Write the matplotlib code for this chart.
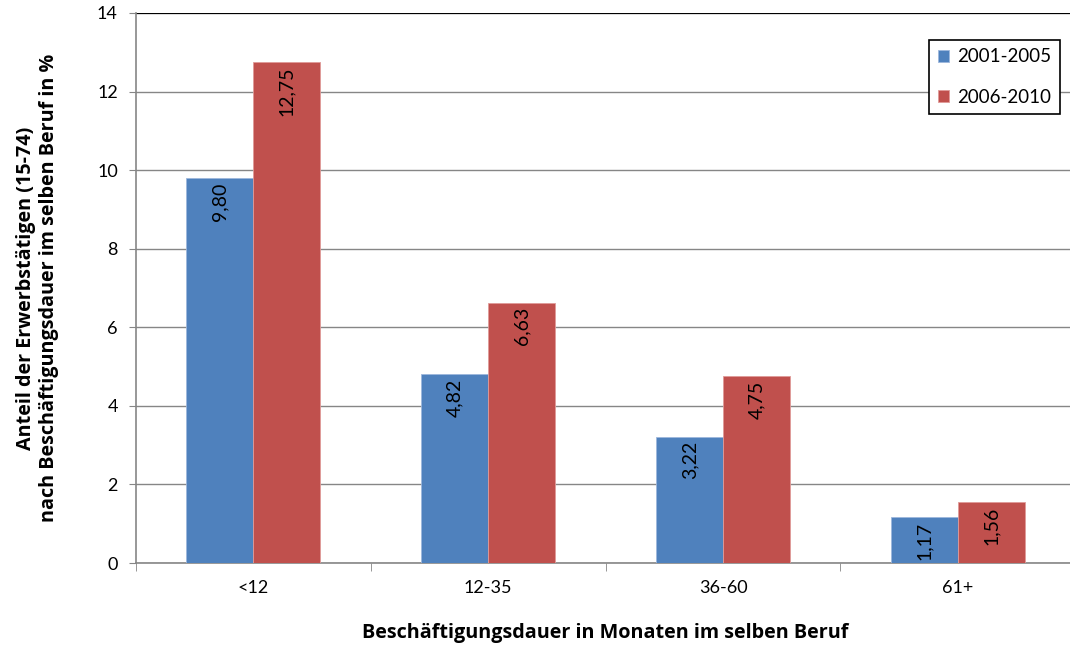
import matplotlib
matplotlib.use("Agg")
import matplotlib.pyplot as plt
import numpy as np

# Daten
categories = ["<12", "12-35", "36-60", "61+"]
series_a = [9.80, 4.82, 3.22, 1.17]
series_b = [12.75, 6.63, 4.75, 1.56]
labels = ["2001-2005", "2006-2010"]

plt.rcParams['font.family'] = ['Lato', 'DejaVu Sans']

fig = plt.figure(figsize=(10.7, 6.49), dpi=100)
ax = fig.add_axes([0.127, 0.1325, 0.878, 0.8475])

x = np.arange(len(categories))
w = 0.285
bars_a = ax.bar(x - w / 2, series_a, w, color="#4F81BD", edgecolor="#9DB7DC", linewidth=0.6, label=labels[0], zorder=3)
bars_b = ax.bar(x + w / 2, series_b, w, color="#C0504D", edgecolor="#E09A98", linewidth=0.6, label=labels[1], zorder=3)

for bars, vals in [(bars_a, series_a), (bars_b, series_b)]:
    for b, v in zip(bars, vals):
        ax.text(b.get_x() + b.get_width() / 2, v - 0.12, f"{v:.2f}".replace(".", ","),
                rotation=90, ha="center", va="top", fontsize=14, zorder=4)

ax.set_xlim(-0.5, len(categories) - 0.5)
ax.set_ylim(0, 14)
ax.set_yticks(range(0, 15, 2))
ax.set_xticks(x)
ax.set_xticklabels(categories, fontsize=13)
ax.tick_params(axis="y", labelsize=13, length=5, color="#868686", pad=8)
ax.tick_params(axis="x", length=0, pad=12)
ax.set_xticks(np.arange(-0.5, len(categories), 1), minor=True)
ax.tick_params(axis="x", which="minor", length=6, color="#868686")

ax.grid(axis="y", color="#868686", linewidth=1, zorder=0)
for s in ["top", "right"]:
    ax.spines[s].set_visible(False)
ax.spines["left"].set_color("#868686")
ax.spines["bottom"].set_color("#868686")
ax.spines["left"].set_linewidth(1.2)
ax.spines["bottom"].set_linewidth(1.2)
ax.axhline(14, color="black", linewidth=1.5, zorder=2)

bold = ['Open Sans', 'DejaVu Sans']
ax.set_xlabel("Beschäftigungsdauer in Monaten im selben Beruf", fontsize=14.2, fontweight="bold",
              family=bold, labelpad=20)
ax.set_ylabel("Anteil der Erwerbstätigen (15-74)\nnach Beschäftigungsdauer im selben Beruf in %",
              fontsize=14.2, fontweight="bold", family=bold, labelpad=27, linespacing=1.25)

leg = ax.legend(loc="upper right", bbox_to_anchor=(0.9835, 0.951), fontsize=13.5, fancybox=False,
                edgecolor="black", framealpha=1, handlelength=0.6, handleheight=0.6,
                labelspacing=1.25, borderpad=0.45, handletextpad=0.45, borderaxespad=0)
leg.get_frame().set_linewidth(1.2)

fig.savefig("out.png", dpi=100)
